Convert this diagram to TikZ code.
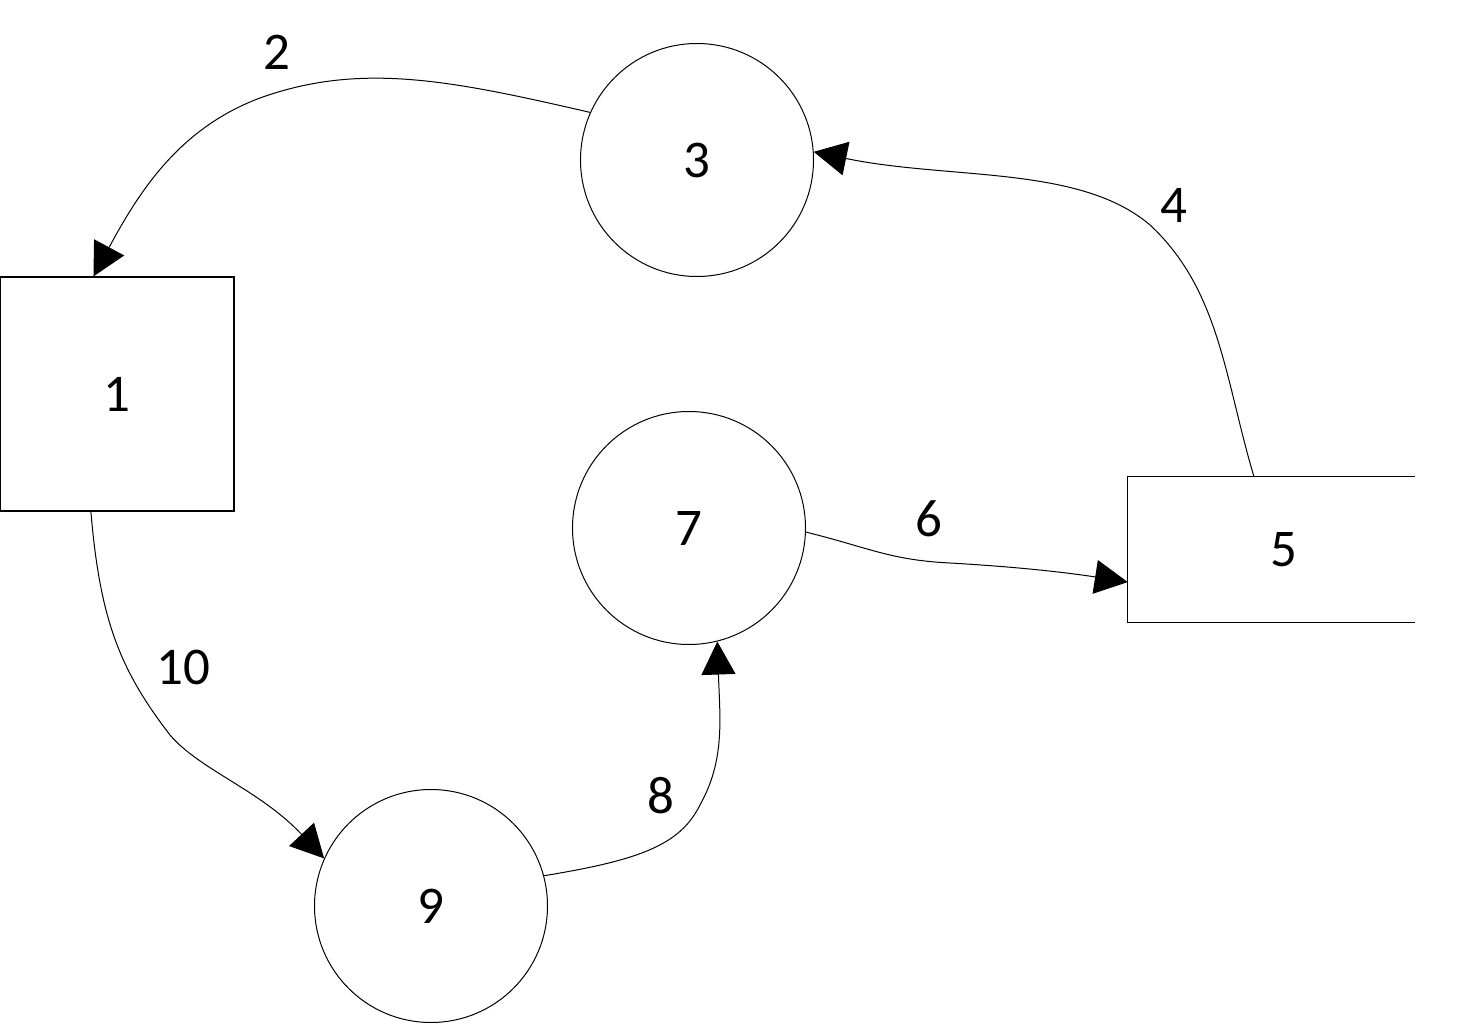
\documentclass[tikz,border=0pt]{standalone}
\usepackage{fontspec}
\setmainfont{Carlito}
\usetikzlibrary{arrows.meta,calc}
\begin{document}
\begin{tikzpicture}[x=1pt,y=-1pt,
  box/.style={draw=black,line width=1.2pt,minimum width=234pt,minimum height=234pt,inner sep=0pt},
  proc/.style={draw=black,line width=1pt,circle,minimum size=233pt,inner sep=0pt},
  conn/.style={draw=black,line width=1pt,-{Triangle[length=33pt,width=34pt]}},
  lbl/.style={inner sep=0pt},
  every node/.append style={font=\fontsize{53}{63}\selectfont}]
\useasboundingbox (0,0) rectangle (1468,1024);
\node[box] (r1) at (117,394) {1};
\node[proc] (c3) at (697,160) {3};
\node[proc] (c7) at (689,528) {7};
\node[proc] (c9) at (431,906) {9};
\node[minimum width=312pt,minimum height=145pt,inner sep=0pt] (r5) at (1284,549.5) {5};
\draw[line width=1.2pt] ($(r5.north west)+(287,0)$) -- (r5.north west) -- (r5.south west) -- ($(r5.south west)+(287,0)$);
% labels
\node[lbl] (l2) at (277,52) {2};
\node[lbl] (l4) at (1174,205) {4};
\node[lbl] (l6) at (929,519) {6};
\node[lbl] (l8) at (661,796) {8};
\node[lbl] (l10) at (183,667) {10};
% connectors
\draw[conn] (c3.156) .. controls (450,80) and (360,62) .. (260,98) .. controls (180,128) and (140,190) .. ($(r1.north west)!0.4!(r1.north east)$);
\draw[conn] ($(r5.north west)!0.404!(r5.north east)$) .. controls (1225,380) and (1220,290) .. (1150,225) .. controls (1080,165) and (950,180) .. (c3.4);
\draw[conn] (c7.-2) .. controls (870,548) and (890,560) .. (950,563) .. controls (1020,567) and (1070,573) .. ($(r5.north west)!0.724!(r5.south west)$);
\draw[conn] (c9.15) .. controls (640,860) and (680,845) .. (700,805) .. controls (725,760) and (720,720) .. (c7.-76);
\draw[conn] ($(r1.south west)!0.389!(r1.south east)$) .. controls (100,620) and (120,670) .. (170,735) .. controls (200,770) and (260,790) .. (c9.156);
\end{tikzpicture}
\end{document}
